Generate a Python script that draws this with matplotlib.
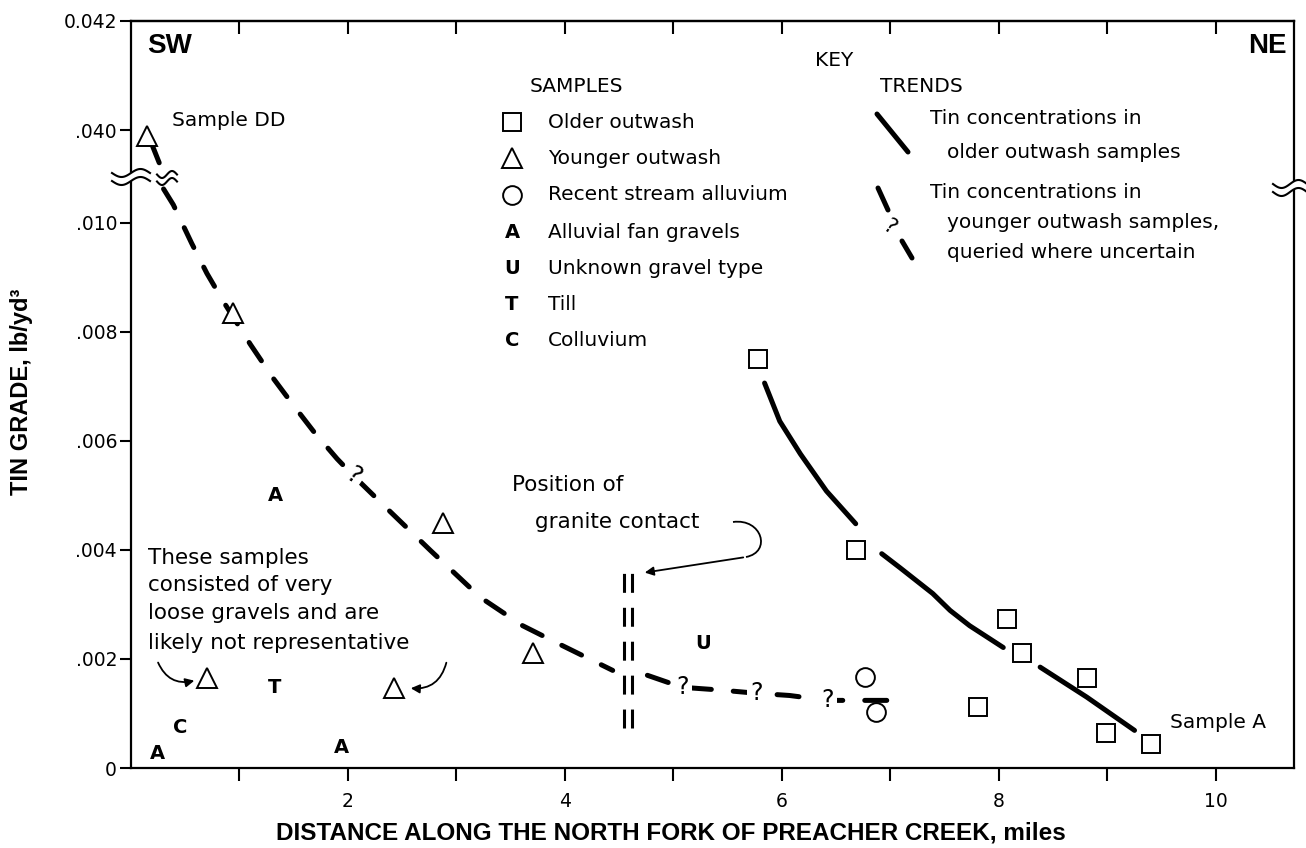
import numpy as np
import matplotlib
matplotlib.use("Agg")
import matplotlib.pyplot as plt
import matplotlib.transforms as mtransforms
from matplotlib.patches import FancyArrowPatch, Polygon, PathPatch
from matplotlib.path import Path
from matplotlib.lines import Line2D

# ---------------- data ----------------
older_x = [5.78, 6.68, 8.07, 8.21, 8.81, 7.81, 8.99, 9.40]
older_y = [0.00751, 0.00400, 0.00274, 0.00210, 0.00165, 0.00112, 0.00064, 0.00044]

younger_x = [0.15, 0.94, 2.88, 3.71, 0.70, 2.42]
younger_y = [0.0399, 0.00834, 0.00450, 0.00210, 0.00165, 0.00146]

recent_x = [6.77, 6.87]
recent_y = [0.00166, 0.00102]

letter_codes = ["A", "T", "C", "A", "A", "U"]
letter_x = [1.33, 1.32, 0.45, 0.24, 1.94, 5.27]
letter_y = [0.00499, 0.00148, 0.00075, 0.00027, 0.00037, 0.00228]

# trend lines
older_trend1_x = [5.84, 5.98, 6.17, 6.41, 6.68]
older_trend1_y = [0.00706, 0.00636, 0.00576, 0.00508, 0.00448]
older_trend2_x = [6.92, 7.09, 7.39, 7.55, 7.73, 8.04]
older_trend2_y = [0.00393, 0.00367, 0.00320, 0.00289, 0.00261, 0.00221]
older_trend3_x = [8.38, 8.81, 9.25]
older_trend3_y = [0.00185, 0.00130, 0.00069]

young_trend_top_x = [0.20, 0.26]
young_trend_top_y = [0.0397, 0.0394]
young_trend1_x = [0.30, 0.39, 0.56, 0.70, 0.85, 1.10, 1.31, 1.49, 1.68, 1.90,
                  2.05, 2.39, 2.76, 3.22, 3.61, 3.93, 4.44]
young_trend1_y = [0.01062, 0.01033, 0.00962, 0.00907, 0.00856, 0.00777, 0.00715,
                  0.00667, 0.00618, 0.00567, 0.00536, 0.00470, 0.00399, 0.00313,
                  0.00261, 0.00229, 0.00179]
young_trend2_x = [4.76, 5.08, 5.43, 5.77, 6.07, 6.42, 7.04]
young_trend2_y = [0.00170, 0.00148, 0.00143, 0.00137, 0.00133, 0.00124, 0.00124]

query_x = [2.05, 5.08, 5.77, 6.42]
query_y = [0.00536, 0.00148, 0.00137, 0.00124]

contact_x = 4.58
contact_y = [0.00073, 0.00358]

ytick_vals = [0, 0.002, 0.004, 0.006, 0.008, 0.010, 0.040, 0.042]
ytick_labels = ["0", ".002", ".004", ".006", ".008", ".010", ".040", "0.042"]
xtick_major = [2, 4, 6, 8, 10]
xtick_minor = [1, 3, 5, 7, 9]

# broken y axis: values >= .040 are shifted down
BREAK_SHIFT = 0.040 - 0.0117


def to_axis(v):
    v = np.asarray(v, dtype=float)
    return np.where(v >= 0.02, v - BREAK_SHIFT, v)


# ---------------- figure ----------------
W, H, DPI = 1306, 848, 100
plt.rcParams["font.family"] = ["DejaVu Sans"]
fig = plt.figure(figsize=(W / DPI, H / DPI), dpi=DPI)
PX = mtransforms.Affine2D().scale(1 / DPI, -1 / DPI).translate(0, H / DPI) + fig.dpi_scale_trans

L0, R0, T0, B0 = 131, 1294, 21, 768
ax = fig.add_axes([L0 / W, (H - B0) / H, (R0 - L0) / W, (B0 - T0) / H])
ax.set_xlim(0, 10.72)
ax.set_ylim(0, float(to_axis(0.042)))

for s in ax.spines.values():
    s.set_linewidth(1.6)
ax.set_xticks(xtick_major)
ax.set_xticks(xtick_minor, minor=True)
ax.set_xticklabels([str(v) for v in xtick_major])
ax.tick_params(axis="x", which="both", direction="out", length=9, width=1.5,
               labelsize=13.5, pad=8)
ax.set_yticks(to_axis(ytick_vals))
ax.set_yticklabels(ytick_labels)
ax.tick_params(axis="y", which="both", direction="out", length=8, width=1.5,
               labelsize=13.5, pad=2)
sec = ax.secondary_xaxis("top")
sec.set_xticks(list(range(1, 11)))
sec.tick_params(direction="in", length=9, width=1.5, labeltop=False)
sec.spines["top"].set_linewidth(1.6)

# ---------------- trend lines ----------------
solid_kw = dict(color="black", lw=3.6, solid_capstyle="round")
ax.plot(older_trend1_x, older_trend1_y, **solid_kw)
ax.plot(older_trend2_x, older_trend2_y, **solid_kw)
ax.plot(older_trend3_x, older_trend3_y, **solid_kw)

dash_kw = dict(color="black", lw=3.6, dash_capstyle="round", linestyle=(0, (4.4, 4.4)))
ax.plot(young_trend_top_x, to_axis(young_trend_top_y), **dash_kw)
ax.plot(young_trend1_x, young_trend1_y, **dash_kw)
ax.plot(young_trend2_x, young_trend2_y, **dash_kw)

for i, (qx, qy) in enumerate(zip(query_x, query_y)):
    rot = -35 if i == 0 else 0
    ax.text(qx, qy, "?", fontsize=17, ha="center", va="center", rotation=rot,
            zorder=5, bbox=dict(boxstyle="square,pad=0.15", fc="white", ec="none"))

# granite contact (double dashed bar)
for dx in (-0.037, 0.037):
    ax.plot([contact_x + dx] * 2, contact_y, color="black", lw=2.2,
            linestyle=(0, (6.2, 4.9)), dash_capstyle="butt")

# ---------------- samples ----------------
mk = dict(ls="none", mfc="white", mec="black", mew=1.4, zorder=6)
ax.plot(older_x, older_y, marker="s", ms=13, **mk)
ax.plot(younger_x, to_axis(younger_y), marker="^", ms=14, **mk)
ax.plot(recent_x, recent_y, marker="o", ms=13.5, **mk)
for c, x, y in zip(letter_codes, letter_x, letter_y):
    ax.text(x, y, c, fontsize=14, fontweight="bold", ha="center", va="center")

# ---------------- axis breaks ----------------
def squiggle(cx, cy, w, amp, sep, lw=1.5):
    t = np.linspace(-0.5, 0.5, 60)
    xs = cx + w * t
    up = cy - sep / 2 - amp * np.sin(2 * np.pi * t)
    lo = cy + sep / 2 - amp * np.sin(2 * np.pi * t)
    poly = np.column_stack([np.r_[xs, xs[::-1]], np.r_[up, lo[::-1]]])
    fig.add_artist(Polygon(poly, closed=True, fc="white", ec="none", transform=PX, zorder=10))
    fig.add_artist(Line2D(xs, up, color="black", lw=lw, transform=PX, zorder=11))
    fig.add_artist(Line2D(xs, lo, color="black", lw=lw, transform=PX, zorder=11))


squiggle(131, 177, 38, 4, 8)
squiggle(167, 178, 20, 3.5, 7)
squiggle(1290, 188, 34, 4, 8)

# ---------------- texts ----------------
def ptext(x, y, s, **kw):
    kw.setdefault("fontsize", 14.5)
    kw.setdefault("va", "center")
    fig.text(x, y, s, transform=PX, **kw)


ptext(147, 46, "SW", fontsize=20, fontweight="bold", family="Liberation Sans")
ptext(1287, 46, "NE", fontsize=20, fontweight="bold", family="Liberation Sans", ha="right")
ptext(172, 120, "Sample DD")
ptext(1170, 723, "Sample A")

for i, line in enumerate(["These samples", "consisted of very",
                          "loose gravels and are", "likely not representative"]):
    ptext(148, [558, 585, 613, 643][i], line, fontsize=15.5)

ptext(512, 485, "Position of", fontsize=15.5)
ptext(535, 522, "granite contact", fontsize=15.5)

# key
ptext(834, 60, "KEY", ha="center")
ptext(530, 87, "SAMPLES")
ptext(880, 87, "TRENDS")
rows = [122, 158, 195, 232, 268, 304, 340]
labels = ["Older outwash", "Younger outwash", "Recent stream alluvium",
          "Alluvial fan gravels", "Unknown gravel type", "Till", "Colluvium"]
symbols = ["s", "^", "o", "A", "U", "T", "C"]
for y, lab, sym in zip(rows, labels, symbols):
    if sym in ("s", "^", "o"):
        ms = {"s": 13, "^": 14, "o": 13.5}[sym]
        fig.add_artist(Line2D([512], [y], marker=sym, ms=ms, mfc="white", mec="black",
                              mew=1.4, ls="none", transform=PX))
    else:
        ptext(512, y, sym, fontsize=14, fontweight="bold", ha="center")
    ptext(548, y, lab)

fig.add_artist(Line2D([877, 908], [114, 152], color="black", lw=3.6,
                      solid_capstyle="round", transform=PX))
ptext(930, 118, "Tin concentrations in")
ptext(947, 152, "older outwash samples")
fig.add_artist(Line2D([878, 888], [188, 210], color="black", lw=3.6,
                      solid_capstyle="round", transform=PX))
fig.add_artist(Line2D([902, 912], [241, 258], color="black", lw=3.6,
                      solid_capstyle="round", transform=PX))
ptext(889, 227, "?", fontsize=15, ha="center", rotation=-35)
ptext(930, 193, "Tin concentrations in")
ptext(947, 223, "younger outwash samples,")
ptext(947, 252, "queried where uncertain")

# arrows
akw = dict(arrowstyle="-|>", mutation_scale=13, lw=1.3, color="black", transform=PX)
fig.add_artist(FancyArrowPatch((157, 660), (197, 680), connectionstyle="arc3,rad=0.45", **akw))
fig.add_artist(FancyArrowPatch((447, 660), (408, 688), connectionstyle="arc3,rad=-0.45", **akw))
hook = Path([(733, 522), (762, 518), (772, 552), (746, 557)],
            [Path.MOVETO, Path.CURVE4, Path.CURVE4, Path.CURVE4])
fig.add_artist(PathPatch(hook, fc="none", ec="black", lw=1.3, transform=PX))
fig.add_artist(FancyArrowPatch((746, 557), (642, 573), connectionstyle="arc3,rad=0", **akw))

# axis titles
ptext(671, 833, "DISTANCE ALONG THE NORTH FORK OF PREACHER CREEK, miles",
      fontsize=17.5, fontweight="bold", family="Liberation Sans", ha="center")
ptext(22, 392, "TIN GRADE, lb/yd³", fontsize=17, fontweight="bold",
      family="Liberation Sans", ha="center", rotation=90)

fig.savefig("out.png", dpi=DPI)
